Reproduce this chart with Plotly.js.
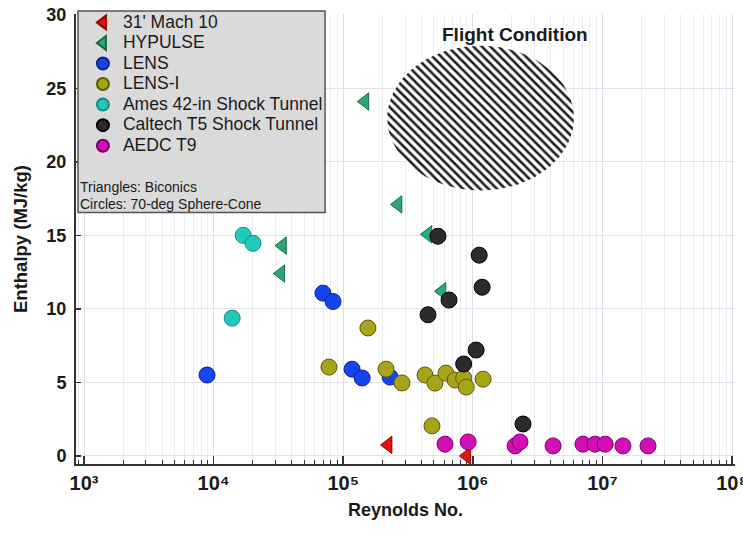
<!DOCTYPE html>
<html><head><meta charset="utf-8">
<script src="https://cdn.plot.ly/plotly-3.0.1.min.js"></script>
<style>html,body{margin:0;padding:0;background:#fff}#chart{width:743px;height:542px}</style>
</head><body><div id="chart"></div>
<script>
// ---- data ----
const seriesNames = ["31' Mach 10", "HYPULSE", "LENS", "LENS-I", "Ames 42-in Shock Tunnel", "Caltech T5 Shock Tunnel", "AEDC T9"];

const mach10Re = [2.22e5, 9.0e5];
const mach10H  = [0.75, 0.0];

const hypulseRe = [1.47e5, 2.65e5, 4.51e5, 3.4e4, 3.3e4, 5.78e5];
const hypulseH  = [24.1, 17.1, 15.07, 14.3, 12.4, 11.2];

const lensRe = [8.9e3, 6.98e4, 8.34e4, 1.17e5, 1.40e5, 2.30e5];
const lensH  = [5.5, 11.07, 10.5, 5.9, 5.3, 5.36];

const lensIRe = [7.76e4, 1.55e5, 2.14e5, 2.84e5, 4.28e5, 5.1e5, 6.2e5, 7.3e5, 8.5e5, 8.9e5, 1.2e6, 4.84e5];
const lensIH  = [6.04, 8.7, 5.9, 4.96, 5.5, 4.95, 5.63, 5.16, 5.3, 4.68, 5.22, 2.04];

const amesRe = [1.69e4, 2.01e4, 1.39e4];
const amesH  = [15.0, 14.46, 9.37];

const caltechRe = [5.38e5, 1.12e6, 1.18e6, 6.55e5, 4.51e5, 1.06e6, 8.5e5, 2.44e6];
const caltechH  = [14.94, 13.65, 11.47, 10.6, 9.6, 7.2, 6.25, 2.17];

const aedcRe = [6.1e5, 9.2e5, 2.12e6, 2.31e6, 4.16e6, 7.08e6, 8.77e6, 1.05e7, 1.44e7, 2.25e7];
const aedcH  = [0.8, 0.95, 0.68, 0.95, 0.68, 0.8, 0.8, 0.8, 0.68, 0.68];

// x-axis tick labels
const xTickVals = [1e3, 1e4, 1e5, 1e6, 1e7, 1e8];
const xTickText = ["10\u00B3", "10\u2074", "10\u2075", "10\u2076", "10\u2077", "10\u2078"];

// flight condition region (ellipse in log(Re) - enthalpy space)
const flightLabel = "Flight Condition";
const flightCenterLogRe = 6.06;
const flightHalfWidthLogRe = 0.72;
const flightCenterH = 22.97;
const flightHalfH = 4.92;

const noteLines = ["Triangles: Biconics", "Circles: 70-deg Sphere-Cone"];
const xTitle = "Reynolds No.";
const yTitle = "Enthalpy (MJ/kg)";

// ---- styles ----
const fam = "Liberation Sans, Arial, sans-serif";
const styles = [
  {symbol: 'triangle-left', color: '#e01414', line: '#8e0000', size: 15},
  {symbol: 'triangle-left', color: '#2ca877', line: '#146b48', size: 15},
  {symbol: 'circle', color: '#1445f0', line: '#0a2590', size: 16},
  {symbol: 'circle', color: '#a8a41a', line: '#5e5a00', size: 16},
  {symbol: 'circle', color: '#22c9bb', line: '#0e8a80', size: 16},
  {symbol: 'circle', color: '#2b2b2b', line: '#000000', size: 16},
  {symbol: 'circle', color: '#d10fb5', line: '#7a0068', size: 16}
];
const xs = [mach10Re, hypulseRe, lensRe, lensIRe, amesRe, caltechRe, aedcRe];
const ys = [mach10H, hypulseH, lensH, lensIH, amesH, caltechH, aedcH];

// ellipse outline
const ex = [], ey = [];
for (let i = 0; i <= 120; i++) {
  const t = 2 * Math.PI * i / 120;
  ex.push(Math.pow(10, flightCenterLogRe + flightHalfWidthLogRe * Math.cos(t)));
  ey.push(flightCenterH + flightHalfH * Math.sin(t));
}

const traces = [{
  x: ex, y: ey, mode: 'lines', fill: 'toself', showlegend: false, hoverinfo: 'skip',
  line: {width: 0, color: 'rgba(0,0,0,0)'},
  fillcolor: 'white',
  fillpattern: {shape: '\\', fgcolor: '#1e1e1e', bgcolor: 'white', size: 6, solidity: 0.42}
}];
seriesNames.forEach((n, i) => {
  const s = styles[i];
  traces.push({
    x: xs[i], y: ys[i], mode: 'markers', type: 'scatter',
    name: '<span style="font-size:17.5px">' + n + '</span>',
    marker: {symbol: s.symbol, size: s.size, color: s.color, line: {color: s.line, width: 1}}
  });
});

const layout = {
  width: 743, height: 542,
  margin: {l: 76, r: 8, t: 13, b: 78},
  paper_bgcolor: 'white', plot_bgcolor: 'white',
  font: {family: fam, color: '#1a1a1a'},
  showlegend: true,
  legend: {
    x: 0.0105, y: 1.013, xanchor: 'left', yanchor: 'top',
    bgcolor: 'rgba(0,0,0,0)', borderwidth: 0,
    font: {family: fam, size: 13.5, color: '#1a1a1a'},
    itemsizing: 'constant'
  },
  xaxis: {
    type: 'log', range: [2.938, 8.023],
    tickmode: 'array', tickvals: xTickVals, ticktext: xTickText,
    ticks: 'inside', ticklen: 8, tickwidth: 1.5, tickcolor: '#333',
    showline: true, linecolor: '#333', linewidth: 2, zeroline: false,
    showgrid: true, gridcolor: '#dcdce6', gridwidth: 1,
    minor: {dtick: 'D1', ticks: 'inside', ticklen: 4, tickwidth: 1, tickcolor: '#333', showgrid: true, gridcolor: '#ececf3', gridwidth: 1},
    tickfont: {family: fam, size: 20, weight: 'bold', color: '#1a1a1a'},
    ticklabeloverflow: 'allow',
    title: {text: xTitle, font: {family: fam, size: 18, weight: 'bold', color: '#1a1a1a'}, standoff: 10}
  },
  yaxis: {
    range: [-0.55, 30.05], dtick: 5,
    ticks: 'inside', ticklen: 5, tickwidth: 1.5, tickcolor: '#333',
    showline: true, linecolor: '#333', linewidth: 2, zeroline: false,
    showgrid: true, gridcolor: '#e2e2ea', gridwidth: 1,
    tickfont: {family: fam, size: 18, weight: 'bold', color: '#1a1a1a'},
    ticklabelstandoff: 4,
    title: {text: yTitle, font: {family: fam, size: 18.5, weight: 'bold', color: '#1a1a1a'}, standoff: 14}
  },
  shapes: [{
    type: 'rect', xref: 'paper', yref: 'paper', layer: 'above',
    x0: 0.003, x1: 0.378, y0: 0.5588, y1: 1.0066,
    fillcolor: '#dadada', line: {color: '#555', width: 1.5}
  }],
  annotations: [
    {xref: 'paper', yref: 'paper', x: 0.666, y: 0.9534, xanchor: 'center', yanchor: 'middle', showarrow: false,
     text: flightLabel, font: {family: fam, size: 19, weight: 'bold', color: '#1a1a1a'}},
    {xref: 'paper', yref: 'paper', x: 0.003, y: 0.6164, xanchor: 'left', yanchor: 'middle', showarrow: false,
     text: noteLines[0], font: {family: fam, size: 14, color: '#1a1a1a'}},
    {xref: 'paper', yref: 'paper', x: 0.003, y: 0.5787, xanchor: 'left', yanchor: 'middle', showarrow: false,
     text: noteLines[1], font: {family: fam, size: 14, color: '#1a1a1a'}}
  ]
};

Plotly.newPlot('chart', traces, layout, {displayModeBar: false, staticPlot: true});
</script>
</body></html>
